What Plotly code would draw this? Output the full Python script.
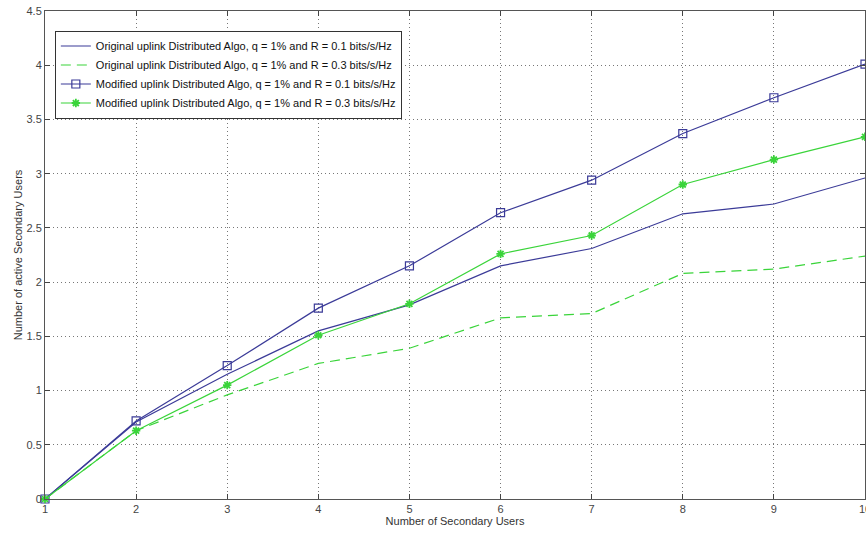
import plotly.graph_objects as go

users = [1, 2, 3, 4, 5, 6, 7, 8, 9, 10]
orig_r01 = [0, 0.71, 1.15, 1.55, 1.79, 2.15, 2.31, 2.63, 2.72, 2.96]
orig_r03 = [0, 0.63, 0.96, 1.25, 1.39, 1.67, 1.71, 2.08, 2.12, 2.24]
mod_r01 = [0, 0.72, 1.23, 1.76, 2.15, 2.64, 2.94, 3.37, 3.70, 4.01]
mod_r03 = [0, 0.63, 1.05, 1.51, 1.80, 2.26, 2.43, 2.90, 3.13, 3.34]

names = [
    "Original uplink Distributed Algo, q = 1% and R = 0.1 bits/s/Hz",
    "Original uplink Distributed Algo, q = 1% and R = 0.3 bits/s/Hz",
    "Modified uplink Distributed Algo, q = 1% and R = 0.1 bits/s/Hz",
    "Modified uplink Distributed Algo, q = 1% and R = 0.3 bits/s/Hz",
]
x_ticks = [1, 2, 3, 4, 5, 6, 7, 8, 9, 10]
y_ticks = [0, 0.5, 1, 1.5, 2, 2.5, 3, 3.5, 4, 4.5]

BLUE = "#3b3b98"
GREEN = "#3ad43a"

fig = go.Figure()
fig.add_trace(go.Scatter(x=users, y=orig_r01, name=names[0], mode="lines",
                         line=dict(color=BLUE, width=1.2), cliponaxis=False))
fig.add_trace(go.Scatter(x=users, y=orig_r03, name=names[1], mode="lines",
                         line=dict(color=GREEN, width=1.2, dash="10px,6px"), cliponaxis=False))
fig.add_trace(go.Scatter(x=users, y=mod_r01, name=names[2], mode="lines+markers",
                         line=dict(color=BLUE, width=1.2), cliponaxis=False,
                         marker=dict(symbol="square-open", size=8,
                                     color=BLUE, line=dict(width=1.2, color=BLUE))))
fig.add_trace(go.Scatter(x=users, y=mod_r03, name=names[3], mode="lines+markers",
                         line=dict(color=GREEN, width=1.2), cliponaxis=False,
                         marker=dict(symbol="asterisk-open", size=7,
                                     color=GREEN, line=dict(width=1.8, color=GREEN))))

axis_common = dict(
    showline=True, linecolor="#555", linewidth=1, mirror="ticks",
    ticks="inside", ticklen=5, tickcolor="#444",
    showgrid=True, gridcolor="#777", griddash="1px,3px", gridwidth=1,
    zeroline=False, automargin=False,
    tickfont=dict(family="Liberation Sans, Arial", size=11, color="#444"),
)

fig.update_xaxes(range=[1, 10], tickvals=x_ticks, ticktext=[str(v) for v in x_ticks],
                 ticklabeloverflow="allow",
                 title=dict(text="Number of Secondary Users", standoff=0,
                            font=dict(family="Liberation Sans, Arial", size=11, color="#333")),
                 **axis_common)
fig.update_yaxes(range=[0, 4.5], tickvals=y_ticks, ticktext=[f"{v:g}" for v in y_ticks],
                 title=dict(text="Number of active Secondary Users", standoff=1,
                            font=dict(family="Liberation Sans, Arial", size=11, color="#333")),
                 **axis_common)

fig.update_layout(
    width=866, height=533,
    margin=dict(l=45, r=1, t=11, b=34, autoexpand=False),
    plot_bgcolor="white", paper_bgcolor="white",
    font=dict(family="Liberation Sans, Arial", size=11, color="#222"),
    legend=dict(x=0.012, y=0.96, xanchor="left", yanchor="top",
                bgcolor="white", bordercolor="#333", borderwidth=1,
                font=dict(size=11, color="#111"), itemwidth=30,
                tracegroupgap=0),
    showlegend=True,
)

# remove the browser's default page margin so the figure fills the window exactly
fig.write_html(
    "out.html",
    config={"displayModeBar": False},
    post_script="document.body.style.margin='0';document.body.style.overflow='hidden';",
)
